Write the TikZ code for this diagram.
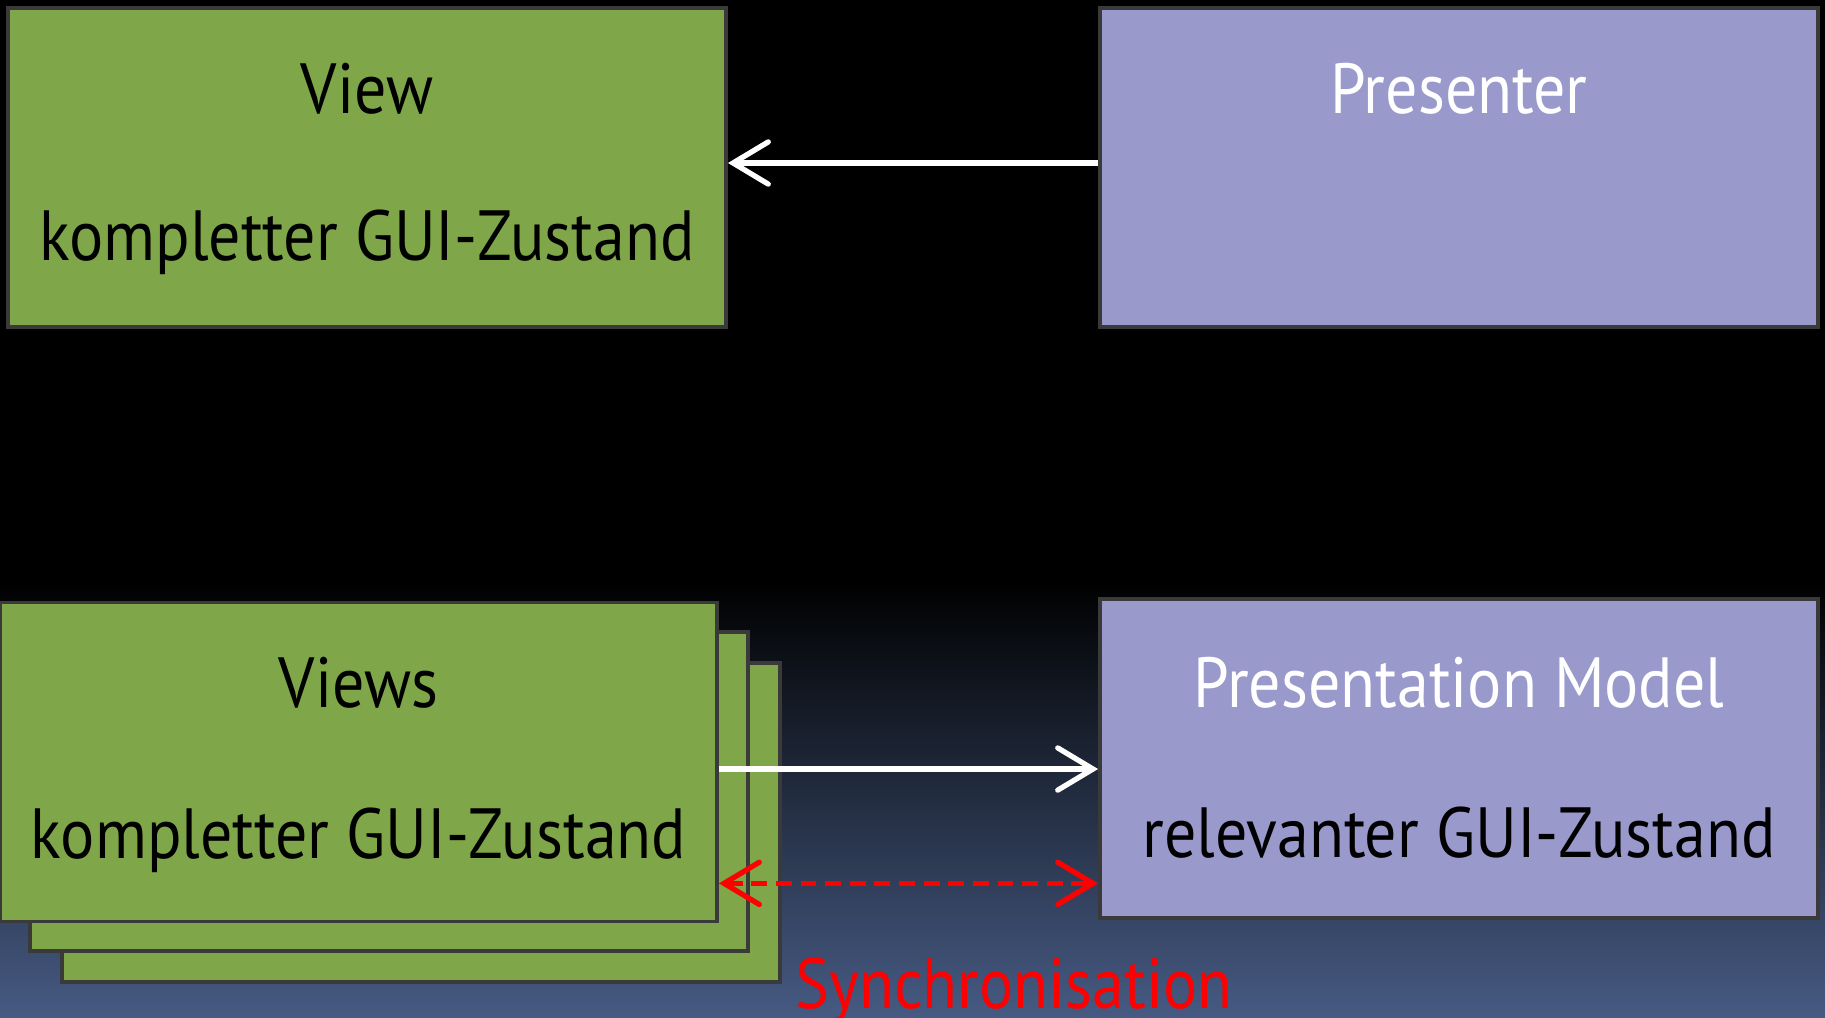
\documentclass[tikz,border=0pt]{standalone}
\usepackage{fontspec}
\setmainfont[FakeStretch=0.9]{PT Sans}
\usetikzlibrary{arrows.meta,shadings}

\definecolor{viewgreen}{RGB}{127,166,72}
\definecolor{presblue}{RGB}{153,153,204}
\definecolor{boxline}{RGB}{58,58,58}
\definecolor{bgbottom}{RGB}{70,90,130}

\tikzset{
  box/.style={draw=boxline, line width=1pt, minimum width=7.18cm, minimum height=3.19cm, inner sep=0pt},
  viewbox/.style={box, fill=viewgreen},
  presbox/.style={box, fill=presblue},
  txt/.style={font=\fontsize{20.2}{24}\selectfont},
  barb/.style={Straight Barb[length=10pt,width=12pt,line cap=round]},
  flow/.style={white, line width=1.5pt, -{Straight Barb[length=10pt,width=12pt,line cap=round]}},
  syncline/.style={red, line width=1.5pt, dash pattern=on 4.5pt off 2.5pt, {Straight Barb[length=10pt,width=12pt,line cap=round]}-{Straight Barb[length=10pt,width=12pt,line cap=round]}}
}

\begin{document}
\begin{tikzpicture}[x=0.01cm, y=-0.01cm]
    \useasboundingbox (0,0) rectangle (1825,1017);
    \fill[black] (0,0) rectangle (1825,1017);
    \shade[top color=black, bottom color=bgbottom] (0,580) rectangle (1825,1017);

    % upper row
    \node[viewbox] (view) at (367,167.5) {};
    \node[presbox] (presenter) at (1459,167.5) {};
    \node[txt] (viewtitle) at (367,89) {View};
    \node[txt] (viewstate) at (367,242) {kompletter GUI-Zustand};
    \node[txt, white] (prestitle) at (1459,89) {Presenter};
    \coordinate (feedstart) at ([yshift=0.045cm]presenter.west);
    \draw[flow] (feedstart) -- (feedstart -| view.east);

    % lower row
    \node[viewbox] (views3) at (421,822.5) {};
    \node[viewbox] (views2) at (389,791.5) {};
    \node[viewbox, minimum width=7.17cm] (views) at (358.5,762) {};
    \node[presbox] (pm) at (1459,758.5) {};
    \node[txt] (viewstitle) at (358.5,683) {Views};
    \node[txt] (viewsstate) at (358.5,840) {kompletter GUI-Zustand};
    \node[txt, white] (pmtitle) at (1459,683) {Presentation Model};
    \node[txt] (pmstate) at (1459,833) {relevanter GUI-Zustand};
    \coordinate (flowstart) at ([yshift=-0.07cm]views.east);
    \draw[flow] (flowstart) -- (flowstart -| pm.west);
    \coordinate (syncstart) at ([yshift=0.4cm]views.south east);
    \draw[syncline] (syncstart) -- (syncstart -| pm.west);
    \node[txt, red] (sync) at (1014,990) {Synchronisation};
\end{tikzpicture}
\end{document}
